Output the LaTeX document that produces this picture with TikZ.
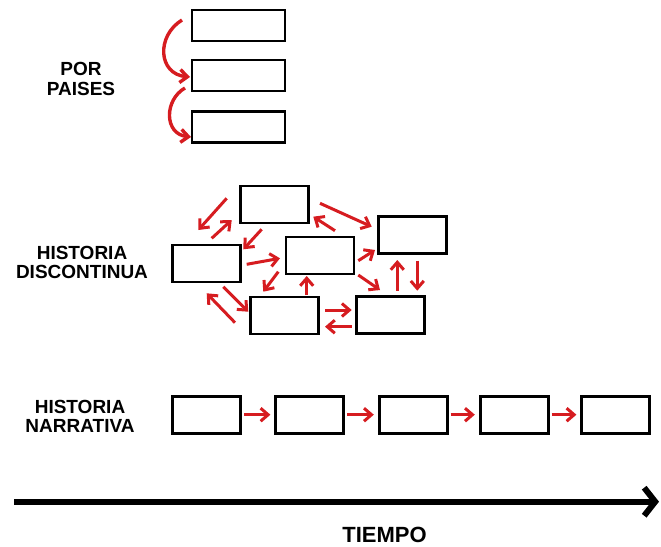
\documentclass[tikz,border=0pt]{standalone}
\usepackage{fontspec}
\setmainfont{Liberation Sans}
\usetikzlibrary{arrows.meta}
\definecolor{arrred}{RGB}{214,28,32}
\tikzset{
  box/.style={draw=black, line width=2.8pt, minimum width=68pt, minimum height=37pt, inner sep=0pt, fill=white},
  topbox/.style={box, minimum width=93pt, minimum height=31pt},
  redarrow/.style={draw=arrred, line width=3pt, -{Straight Barb[length=7.5pt,width=13pt]}},
  label/.style={font=\fontsize{19}{19.5}\selectfont\bfseries, align=center, inner sep=0pt},
  axis/.style={draw=black, line width=6pt, -{Straight Barb[length=11pt,width=28pt]}}
}
\begin{document}
\begin{tikzpicture}[x=1pt,y=-1pt]
\useasboundingbox (0,0) rectangle (661,546);

% ---------- POR PAISES ----------
\node[label] (lp) at (81,79) {POR\\PAISES};
\node[topbox] (t1) at (238.5,25.5) {};
\node[topbox] (t2) at (238.5,75.5) {};
\node[topbox] (t3) at (238.5,127) {};
\coordinate (c1s) at (182,20);
\coordinate (c1e) at (190,77);
\coordinate (c2s) at (185,88);
\coordinate (c2e) at (191,137);
\draw[redarrow, line width=3.4pt] (c1s) .. controls (156,36) and (158,74) .. (c1e);
\draw[redarrow, line width=3.4pt] (c2s) .. controls (164,100) and (164,134) .. (c2e);

% ---------- HISTORIA DISCONTINUA ----------
\node[label] (ld) at (82,262.5) {HISTORIA\\DISCONTINUA};
\node[box] (A) at (274.5,204.5) {};
\node[box] (B) at (206.5,263.5) {};
\node[box] (C) at (320,255.5) {};
\node[box] (D) at (412.5,235) {};
\node[box] (E) at (284.5,315.5) {};
\node[box] (F) at (390.5,315) {};

\coordinate (p1s) at (226.7,198.3);  \coordinate (p1e) at (198.3,230);
\coordinate (p2s) at (211.7,238.3);  \coordinate (p2e) at (231.7,220);
\coordinate (p3s) at (261.7,229.3);  \coordinate (p3e) at (243.3,249.3);
\coordinate (p4s) at (320,203.3);    \coordinate (p4e) at (371.7,226.7);
\coordinate (p5s) at (335,230.7);    \coordinate (p5e) at (313.3,216.7);
\coordinate (p6s) at (246.7,264.3);  \coordinate (p6e) at (280,258.3);
\coordinate (p7s) at (358.3,260.7);  \coordinate (p7e) at (375,250);
\coordinate (p8s) at (278.3,271.7);  \coordinate (p8e) at (263.3,291.7);
\coordinate (p9s) at (306.7,295);    \coordinate (p9e) at (306.7,276);
\coordinate (p10s) at (358.3,275);   \coordinate (p10e) at (380,290);
\coordinate (p11s) at (397.3,290.7); \coordinate (p11e) at (397.3,260);
\coordinate (p12s) at (417.3,260.7); \coordinate (p12e) at (417.3,290.7);
\coordinate (p13s) at (223.3,286.7); \coordinate (p13e) at (248.3,311.7);
\coordinate (p14s) at (235,322.7);   \coordinate (p14e) at (206.7,293.3);
\coordinate (p15s) at (325,310);     \coordinate (p15e) at (351.7,310);
\coordinate (p16s) at (351.7,326.7); \coordinate (p16e) at (325,326.7);

\foreach \i in {1,...,16} {\draw[redarrow] (p\i s) -- (p\i e);}

% ---------- HISTORIA NARRATIVA ----------
\node[label] (ln) at (80,416.4) {HISTORIA\\NARRATIVA};
\node[box] (n1) at (206.7,414.7) {};
\node[box] (n2) at (309.8,414.7) {};
\node[box] (n3) at (413.2,414.7) {};
\node[box] (n4) at (514.2,414.7) {};
\node[box] (n5) at (615.8,414.7) {};
\foreach \a/\b in {n1/n2,n2/n3,n3/n4,n4/n5}
  {\draw[redarrow, shorten <=2pt, shorten >=4pt] (\a) -- (\b);}

% ---------- TIEMPO ----------
\coordinate (ax0) at (14,501.7);
\coordinate (ax1) at (659,501.7);
\draw[axis] (ax0) -- (ax1);
\node[label, font=\fontsize{22}{24}\selectfont\bfseries] (lt) at (384.5,535) {TIEMPO};
\end{tikzpicture}
\end{document}
